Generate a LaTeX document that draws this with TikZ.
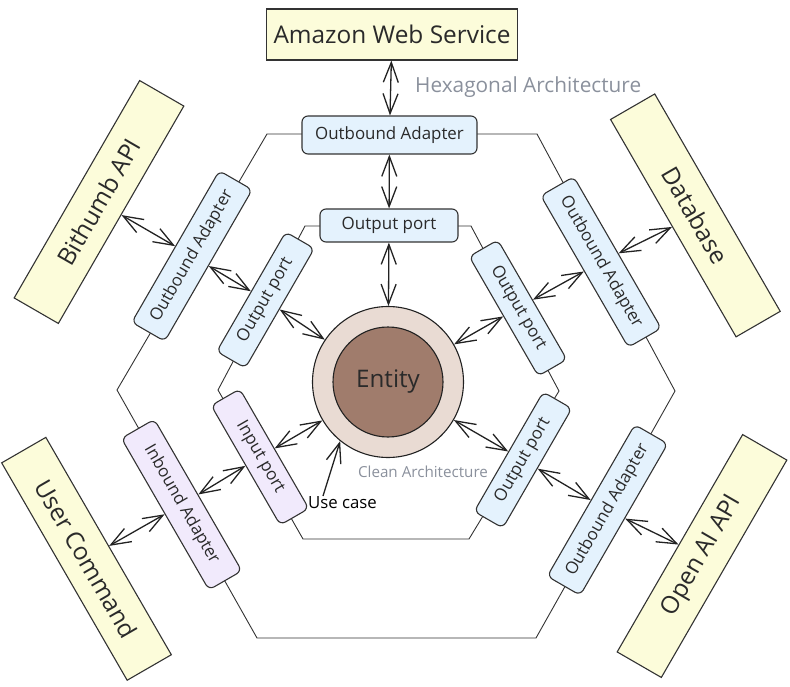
\documentclass[tikz,border=0pt]{standalone}
\usepackage{fontspec}
\setmainfont{Open Sans}
\usetikzlibrary{arrows.meta,calc}
\definecolor{yel}{HTML}{FCFCDA}
\definecolor{blu}{HTML}{E4F2FD}
\definecolor{pur}{HTML}{F1EAFC}
\definecolor{ringc}{HTML}{E9DBD3}
\definecolor{entc}{HTML}{A07C6C}
\definecolor{bordc}{HTML}{333333}
\definecolor{txtc}{HTML}{2A2A2A}
\definecolor{grayt}{HTML}{8A909C}
\definecolor{arrc}{HTML}{222222}
\begin{document}
\begin{tikzpicture}[x=1pt,y=-1pt,
  extbox/.style={draw=bordc, line width=1.1pt, fill=yel, minimum width=251pt, minimum height=51pt, inner sep=0pt, text=txtc, font=\fontsize{24.4}{27}\selectfont},
  adapter/.style={draw=bordc, line width=1.1pt, rounded corners=6pt, fill=blu, minimum width=175pt, minimum height=38pt, inner sep=0pt, text=txtc, font=\fontsize{16.9}{19}\selectfont},
  portbox/.style={draw=bordc, line width=1.1pt, rounded corners=6pt, fill=blu, minimum width=138pt, minimum height=33pt, inner sep=0pt, text=txtc, font=\fontsize{17}{19}\selectfont},
  inbound/.style={fill=pur},
  hexline/.style={draw=bordc, line width=0.9pt},
  dbl/.style={{Straight Barb[length=20pt,width=15pt]}-{Straight Barb[length=20pt,width=15pt]}, line width=1.3pt, draw=arrc},
  sgl/.style={-{Straight Barb[length=20pt,width=15pt]}, line width=1.3pt, draw=arrc},
  graylabel/.style={text=grayt, inner sep=0pt}
]
\useasboundingbox (0,0) rectangle (790,687);

% hexagons
\draw[hexline] (267,134) -- (537,134) -- (675,391) -- (536,638) -- (257,638) -- (117,390) -- cycle;
\draw[hexline] (305,226) -- (471,226) -- (559,391) -- (469,539) -- (303,539) -- (218,390) -- cycle;

% external systems
\node[extbox] (aws) at (392,34.5) {Amazon Web Service};
\node[extbox, rotate=60] (bithumb) at (99,202) {Bithumb API};
\node[extbox, rotate=-60] (db) at (695.4,215.4) {Database};
\node[extbox, rotate=-60] (user) at (86.5,558.8) {User Command};
\node[extbox, rotate=60] (openai) at (702,556) {Open AI API};

% adapters
\node[adapter] (oatop) at (389.5,135) {Outbound Adapter};
\node[adapter, rotate=60] (oaul) at (192,256) {Outbound Adapter};
\node[adapter, rotate=-60] (oaur) at (601,262) {Outbound Adapter};
\node[adapter, rotate=60] (oalr) at (607.5,510) {Outbound Adapter};
\node[adapter, inbound, rotate=-60] (ia) at (181.6,504.6) {Inbound Adapter};

% ports
\node[portbox] (optop) at (389,225.5) {Output port};
\node[portbox, rotate=60] (opul) at (265.5,300) {Output port};
\node[portbox, rotate=-60] (opur) at (518,308) {Output port};
\node[portbox, rotate=60] (oplr) at (523,460) {Output port};
\node[portbox, inbound, rotate=-60] (ip) at (260,457) {Input port};

% entity
\node[circle, draw=arrc, line width=1.1pt, fill=ringc, minimum size=151pt, inner sep=0pt] (ring) at (388,382) {};
\node[circle, draw=arrc, line width=1.1pt, fill=entc, minimum size=110pt, inner sep=0pt, text=txtc, font=\fontsize{24.2}{27}\selectfont] (entity) at (388,382) {Entity};

% labels
\node[graylabel, anchor=west, font=\fontsize{20.8}{23}\selectfont] (hexlbl) at (415,87) {Hexagonal Architecture};
\node[graylabel, font=\fontsize{15.2}{17}\selectfont] (clean) at (423,472) {Clean Architecture};
\node[text=black, inner sep=0pt, font=\fontsize{16.8}{18}\selectfont] (usecase) at (342.5,503) {Use case};
\coordinate (ucs) at (323,496);

% connectors
\draw[dbl] (aws) -- (oatop);
\draw[dbl] (oatop) -- (optop);
\draw[dbl] (optop) -- (ring);
\draw[dbl] (bithumb) -- (oaul);
\draw[dbl] (oaul) -- (opul);
\draw[dbl] (opul) -- (ring);
\draw[dbl] (ip) -- (ring);
\draw[dbl] (ia) -- (ip);
\draw[dbl] (user) -- (ia);
\draw[dbl] (db) -- (oaur);
\draw[dbl] (oaur) -- (opur);
\draw[dbl] (opur) -- (ring);
\draw[dbl] (ring) -- (oplr);
\draw[dbl] (oplr) -- (oalr);
\draw[dbl] (oalr) -- (openai);
\draw[sgl] (ucs) -- (ring.231.7);
\end{tikzpicture}
\end{document}
